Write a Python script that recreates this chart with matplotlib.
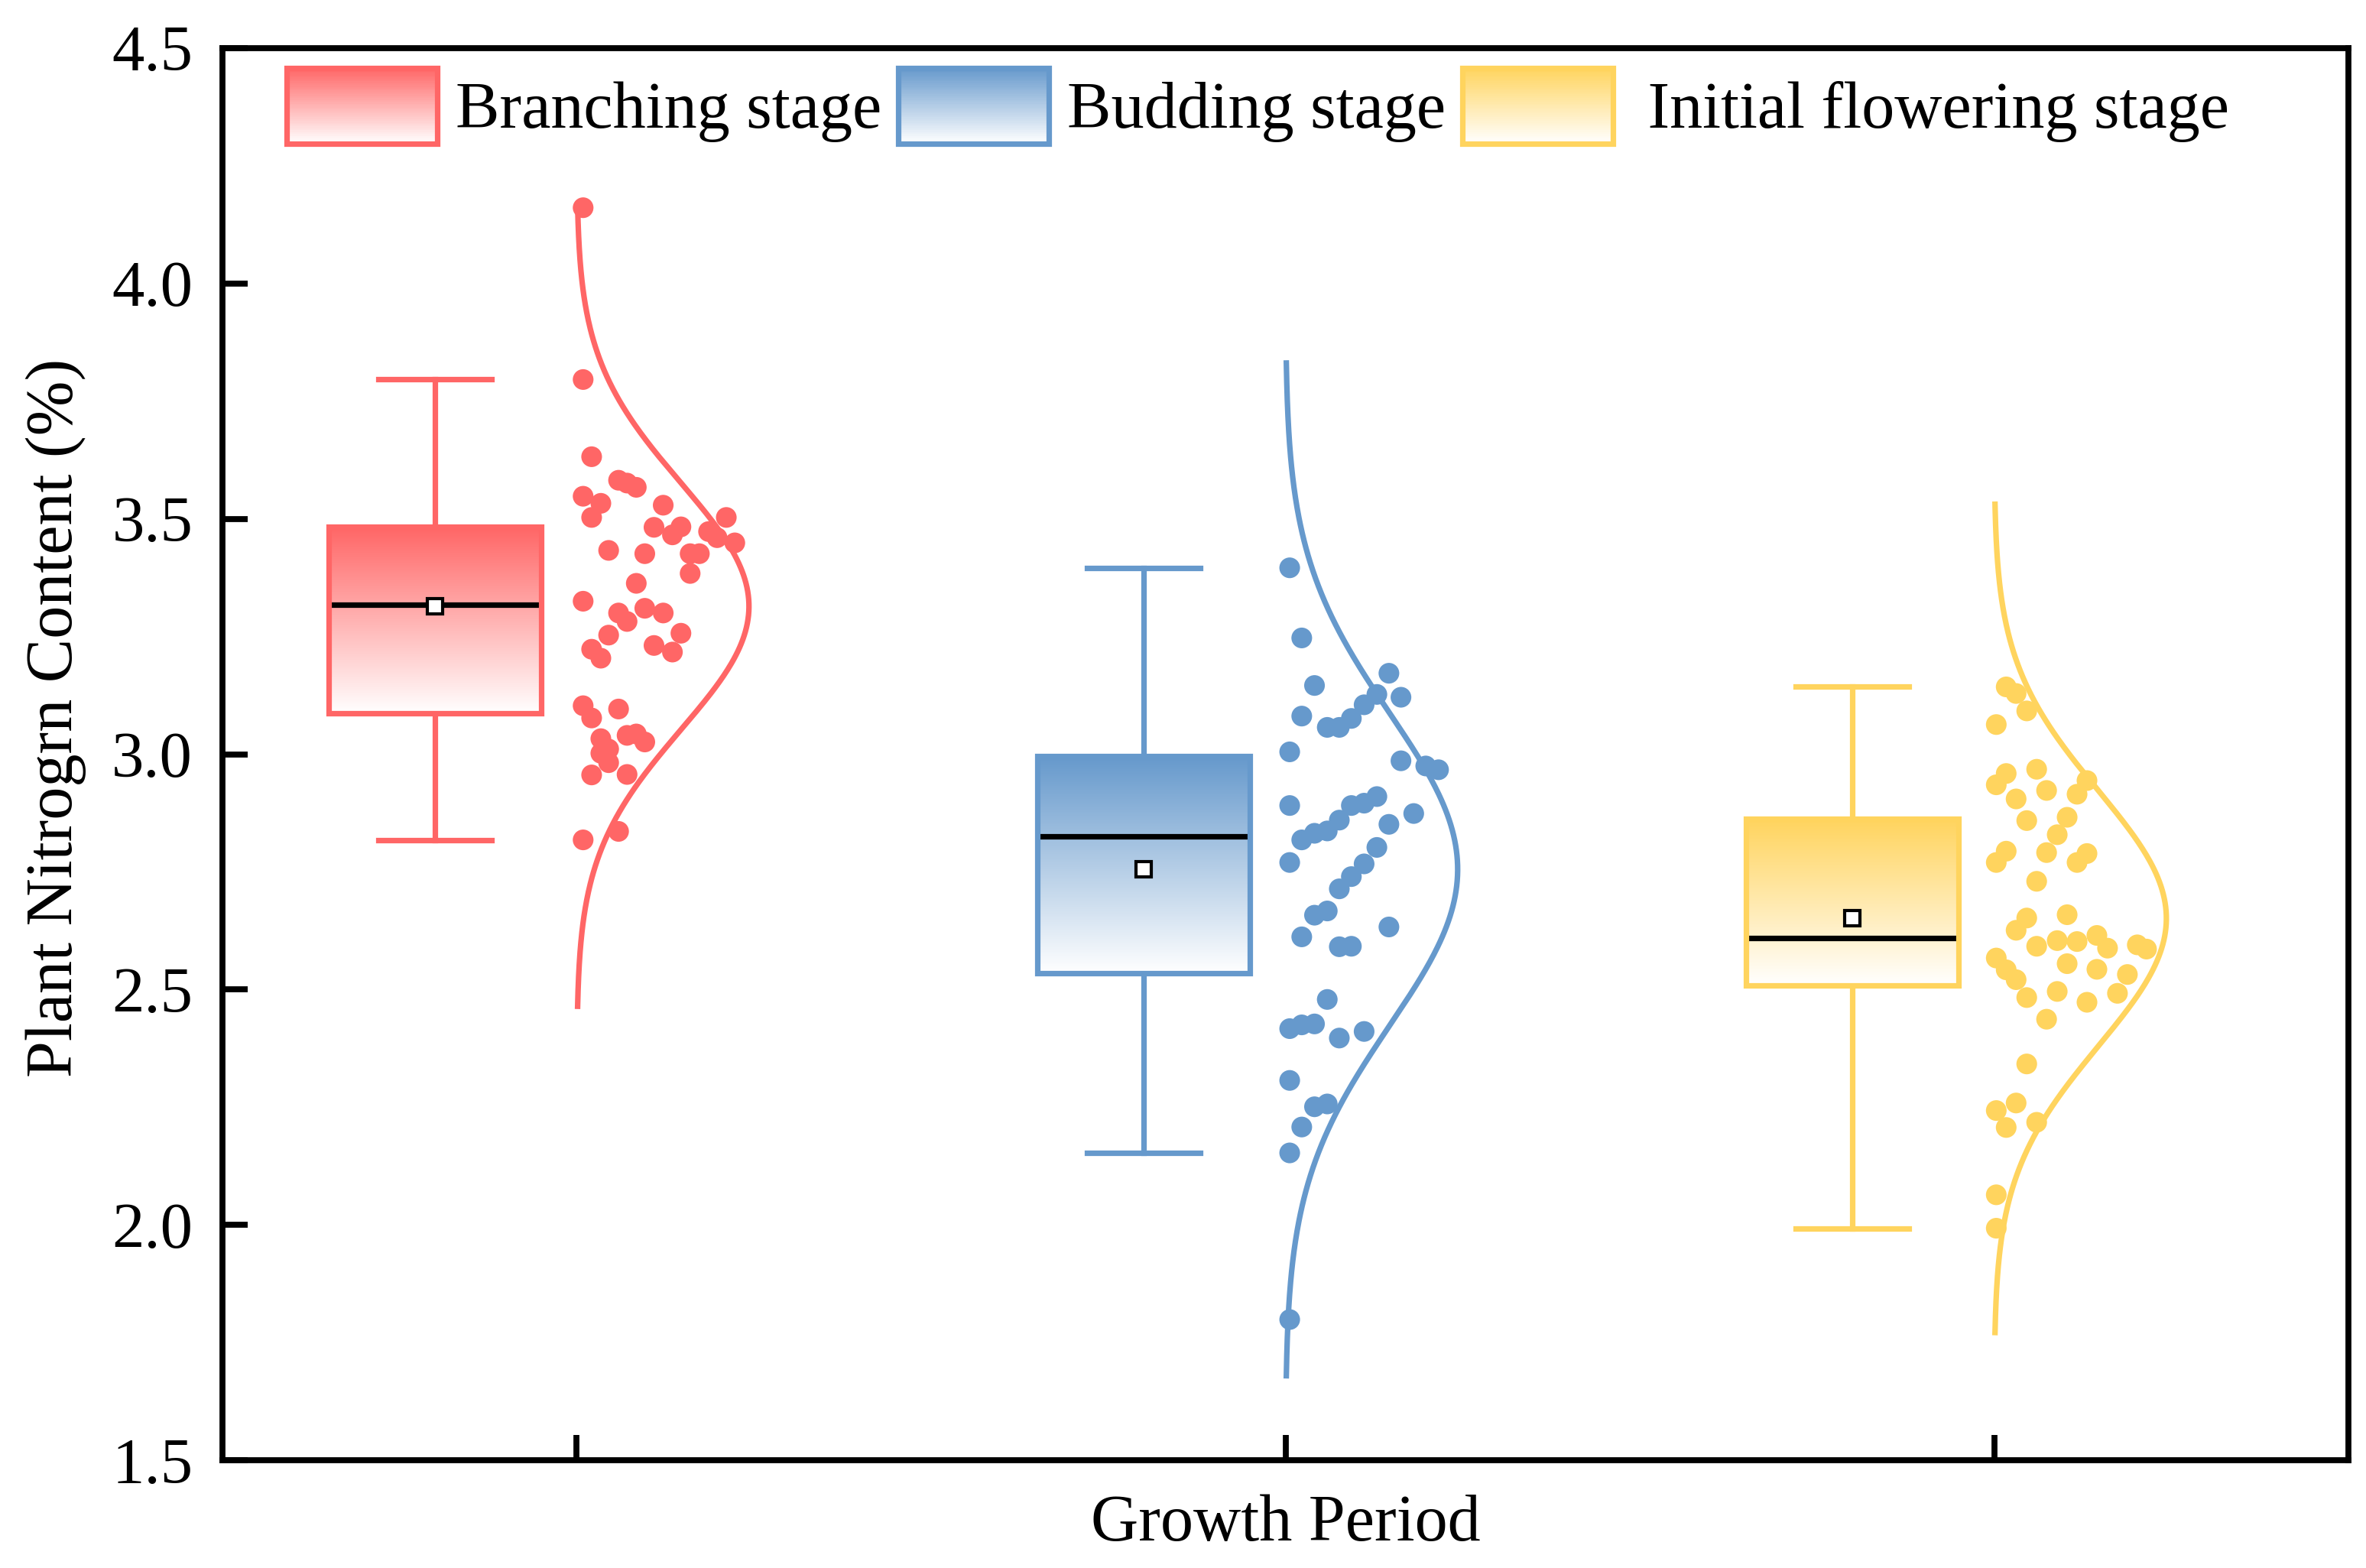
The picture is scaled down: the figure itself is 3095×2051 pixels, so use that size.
import numpy as np
import matplotlib
matplotlib.use('Agg')
import matplotlib.pyplot as plt
from matplotlib.patches import Rectangle
from matplotlib.legend_handler import HandlerBase
from matplotlib.colors import LinearSegmentedColormap, to_rgb

plt.rcParams['font.family'] = ['Liberation Serif', 'DejaVu Serif']

# data: (value, x jitter offset from the category tick)
stages = ['Branching stage', 'Budding stage', ' Initial flowering stage']
colors = ['#FF6666', '#6699CC', '#FFD45E']

branching = [4.161, 3.796, 3.632, 3.582, 3.576, 3.567, 3.548, 3.533, 3.529, 3.503,
             3.503, 3.482, 3.466, 3.483, 3.473, 3.460, 3.449, 3.433, 3.426, 3.426,
             3.426, 3.384, 3.363, 3.325, 3.300, 3.282, 3.310, 3.300, 3.253, 3.257,
             3.231, 3.217, 3.223, 3.204, 3.103, 3.077, 3.096, 3.033, 3.040, 3.043,
             3.026, 3.011, 3.002, 2.982, 2.956, 2.957, 2.836, 2.818]
branching_off = [0.009, 0.009, 0.021, 0.059, 0.071, 0.084, 0.009, 0.034, 0.122, 0.211,
                 0.021, 0.109, 0.135, 0.147, 0.186, 0.198, 0.223, 0.045, 0.096, 0.160,
                 0.173, 0.160, 0.084, 0.009, 0.059, 0.071, 0.096, 0.122, 0.045, 0.147,
                 0.109, 0.135, 0.021, 0.034, 0.009, 0.021, 0.059, 0.034, 0.071, 0.084,
                 0.096, 0.045, 0.034, 0.045, 0.021, 0.071, 0.059, 0.009]

budding = [3.396, 3.247, 3.146, 3.172, 3.127, 3.121, 3.105, 3.081, 3.076, 3.057,
           3.057, 3.005, 2.986, 2.975, 2.967, 2.891, 2.910, 2.896, 2.891, 2.860,
           2.874, 2.837, 2.832, 2.818, 2.851, 2.802, 2.770, 2.767, 2.740, 2.714,
           2.667, 2.658, 2.633, 2.612, 2.591, 2.592, 2.479, 2.417, 2.425, 2.427,
           2.397, 2.411, 2.307, 2.251, 2.257, 2.208, 2.153, 1.799]
budding_off = [0.006, 0.023, 0.041, 0.146, 0.129, 0.163, 0.111, 0.023, 0.093, 0.059,
               0.076, 0.006, 0.163, 0.198, 0.216, 0.006, 0.129, 0.111, 0.093, 0.076,
               0.181, 0.059, 0.041, 0.023, 0.146, 0.129, 0.006, 0.111, 0.093, 0.076,
               0.059, 0.041, 0.146, 0.023, 0.076, 0.093, 0.059, 0.006, 0.023, 0.041,
               0.076, 0.111, 0.006, 0.041, 0.059, 0.023, 0.006, 0.006]

flowering = [3.143, 3.129, 3.092, 3.063, 2.959, 2.935, 2.968, 2.923, 2.944, 2.915,
             2.905, 2.859, 2.866, 2.829, 2.794, 2.770, 2.791, 2.789, 2.770, 2.730,
             2.652, 2.626, 2.659, 2.592, 2.604, 2.602, 2.615, 2.588, 2.595, 2.586,
             2.567, 2.542, 2.521, 2.555, 2.543, 2.532, 2.483, 2.496, 2.473, 2.492,
             2.437, 2.342, 2.259, 2.243, 2.207, 2.218, 2.064, 1.993]
flowering_off = [0.017, 0.031, 0.046, 0.003, 0.017, 0.003, 0.060, 0.074, 0.131, 0.117,
                 0.031, 0.046, 0.103, 0.089, 0.017, 0.003, 0.074, 0.131, 0.117, 0.060,
                 0.046, 0.031, 0.103, 0.060, 0.089, 0.117, 0.145, 0.160, 0.202, 0.215,
                 0.003, 0.017, 0.031, 0.103, 0.145, 0.188, 0.046, 0.089, 0.131, 0.174,
                 0.074, 0.046, 0.031, 0.003, 0.017, 0.060, 0.003, 0.003]

values = [branching, budding, flowering]
offsets = [branching_off, budding_off, flowering_off]
positions = [1, 2, 3]
yticks = [1.5, 2.0, 2.5, 3.0, 3.5, 4.0, 4.5]

LW = 2.6
FS = 31
fig = plt.figure(figsize=(15.475, 10.255), dpi=200)
ax = fig.add_axes([0.094, 0.0687, 0.8986, 0.9006])


def box_stats(v):
    # Tukey hinges, whiskers to the last point within 1.5 IQR
    v = np.sort(np.asarray(v))
    q1, med, q3 = np.percentile(v, [25, 50, 75], method='midpoint')
    iqr = q3 - q1
    lo = v[v >= q1 - 1.5 * iqr].min()
    hi = v[v <= q3 + 1.5 * iqr].max()
    return dict(med=med, q1=q1, q3=q3, whislo=lo, whishi=hi,
                mean=v.mean(), fliers=[])


stats = [box_stats(v) for v in values]
box_pos = [p - 0.2 for p in positions]
bp = ax.bxp(stats, positions=box_pos, widths=0.3, patch_artist=True,
            showmeans=True, showfliers=False, capwidths=0.16,
            medianprops=dict(color='black', lw=2.6),
            meanprops=dict(marker='s', markerfacecolor='white',
                           markeredgecolor='black', markersize=7.5,
                           markeredgewidth=1.5))

for i, c in enumerate(colors):
    box = bp['boxes'][i]
    box.set_facecolor('none')
    box.set_edgecolor(c)
    box.set_linewidth(LW)
    box.set_zorder(3)
    for part in ('whiskers', 'caps'):
        for ln in bp[part][2 * i:2 * i + 2]:
            ln.set_color(c)
            ln.set_linewidth(LW)
    # gradient fill inside the box, colour at top fading to white
    verts = box.get_path().vertices
    x0, x1 = verts[:, 0].min(), verts[:, 0].max()
    y0, y1 = verts[:, 1].min(), verts[:, 1].max()
    cmap = LinearSegmentedColormap.from_list('g%d' % i, ['white', c])
    grad = np.linspace(0, 1, 256).reshape(-1, 1)
    im = ax.imshow(grad, extent=[x0, x1, y0, y1], origin='lower', aspect='auto',
                   cmap=cmap, zorder=2, interpolation='bicubic')
    im.set_clip_path(box)

# half normal curves and jittered points
for i, (v, off, c) in enumerate(zip(values, offsets, colors)):
    v = np.array(v)
    m, s = v.mean(), v.std(ddof=1)
    yy = np.linspace(m - 3.25 * s, m + 3.25 * s, 400)
    dens = np.exp(-0.5 * ((yy - m) / s) ** 2)
    ax.plot(positions[i] + 0.243 * dens, yy, color=c, lw=LW, zorder=3)
    ax.scatter(positions[i] + np.array(off), v, s=95, color=c,
               edgecolors='none', zorder=4)

ax.set_xlim(0.5, 3.5)
ax.set_ylim(1.5, 4.5)
ax.set_xticks(positions)
ax.set_xticklabels([])
ax.set_yticks(yticks)
ax.set_yticklabels(['%.1f' % t for t in yticks])
ax.tick_params(direction='in', length=12, width=2.8, labelsize=30.5, pad=14)
for sp in ax.spines.values():
    sp.set_linewidth(2.8)

ax.set_xlabel('Growth Period', fontsize=FS, labelpad=2)
ax.set_ylabel('Plant Nitrogrn Content (%)', fontsize=FS)
ax.yaxis.set_label_coords(-0.064, 0.526)


class GradientHandler(HandlerBase):
    def __init__(self, color):
        super().__init__()
        self.color = color

    def create_artists(self, legend, orig_handle, xdescent, ydescent,
                       width, height, fontsize, trans):
        c = np.array(to_rgb(self.color))
        n = 40
        arts = []
        for k in range(n):
            t = (k + 0.5) / n
            col = (1 - t) * np.ones(3) + t * c
            arts.append(Rectangle((-xdescent, -ydescent + height * k / n), width,
                                  height / n * 1.05, facecolor=col,
                                  edgecolor='none', transform=trans))
        arts.append(Rectangle((-xdescent, -ydescent), width, height,
                              facecolor='none', edgecolor=self.color, lw=LW,
                              transform=trans))
        return arts


handles = [Rectangle((0, 0), 1, 1) for _ in colors]
ax.legend(handles, stages, loc='upper left', bbox_to_anchor=(0.0302, 0.986),
          ncol=3, frameon=False, fontsize=FS, borderpad=0, borderaxespad=0,
          handlelength=2.29, handleheight=1.39, handletextpad=0.28,
          columnspacing=0.25,
          handler_map={h: GradientHandler(c) for h, c in zip(handles, colors)})

fig.savefig('out.png', dpi=200)
